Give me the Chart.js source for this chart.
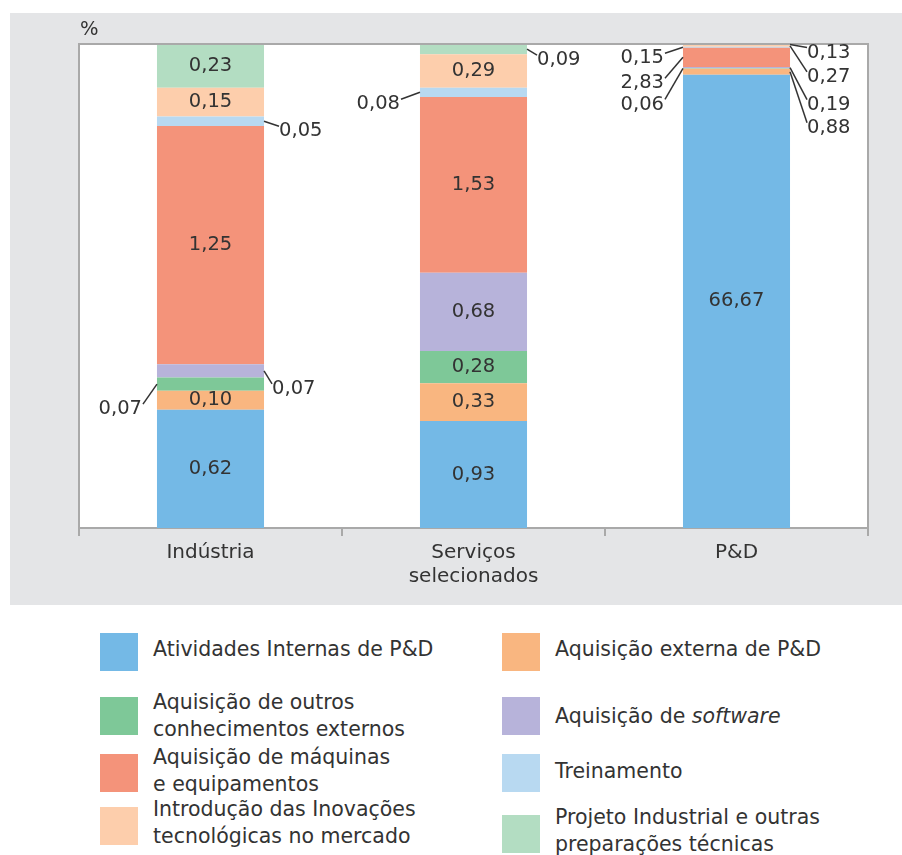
<!DOCTYPE html>
<html>
<head>
<meta charset="utf-8">
<script src="https://cdn.jsdelivr.net/npm/chart.js@4/dist/chart.umd.min.js"></script>
<style>
  html, body { margin: 0; padding: 0; background: #ffffff; }
  body { width: 902px; height: 855px; position: relative; overflow: hidden; font-family: "DejaVu Sans", Verdana, sans-serif; color: #333333; }
  #panel { position: absolute; left: 10px; top: 13px; width: 892px; height: 592px; background: #e4e5e7; }
  #wrap { position: absolute; left: 0; top: 0; width: 902px; height: 605px; }
  .sw { position: absolute; width: 38px; height: 38px; }
  .lt { position: absolute; font-size: 20.5px; line-height: 27px; white-space: nowrap; }
</style>
</head>
<body>
<div id="panel"></div>
<div id="wrap"><canvas id="c" width="902" height="605"></canvas></div>
<div id="legend"></div>
<script>
// ---- Data ----
const categories = ['Indústria', ['Serviços', 'selecionados'], 'P&D'];
const seriesNames = [
  'Atividades internas de P&D',
  'Aquisição externa de P&D',
  'Aquisição de outros conhecimentos externos',
  'Aquisição de software',
  'Aquisição de máquinas e equipamentos',
  'Treinamento',
  'Introdução das inovações tecnológicas no mercado',
  'Projeto industrial e outras preparações técnicas'
];
const internas     = [0.62, 0.93, 66.67];
const externa      = [0.10, 0.33, 0.88];
const outros       = [0.07, 0.28, 0.06];
const software     = [0.07, 0.68, 0.19];
const maquinas     = [1.25, 1.53, 2.83];
const treinamento  = [0.05, 0.08, 0.15];
const introducao   = [0.15, 0.29, 0.27];
const projeto      = [0.23, 0.09, 0.13];
const seriesValues = [internas, externa, outros, software, maquinas, treinamento, introducao, projeto];

// ---- Styles ----
const colors = ['#74b9e6', '#f9b680', '#7ec898', '#b7b3da', '#f4937a', '#b8d9f1', '#fdceac', '#b3ddc2'];
// labels placed outside the bar with a leader line: [seriesIndex, categoryIndex, side, dx, dy]
const outsideLabels = [
  [5, 0, 'R', 15, 10], [2, 0, 'L', 15, 25], [3, 0, 'R', 8, 18],
  [5, 1, 'L', 20, 12], [7, 1, 'R', 10, 11],
  [5, 2, 'L', 19, 11], [4, 2, 'L', 19, 26], [2, 2, 'L', 19, 36],
  [7, 2, 'R', 17, 8], [6, 2, 'R', 17, 31], [3, 2, 'R', 17, 37], [1, 2, 'R', 17, 56]
];

const totals = categories.map((_, j) => seriesValues.reduce((s, arr) => s + arr[j], 0));
const fmt = v => v.toFixed(2).replace('.', ',');

const datasets = seriesValues.map((arr, i) => ({
  label: seriesNames[i],
  data: arr.map((v, j) => v / totals[j] * 100),
  raw: arr,
  backgroundColor: colors[i],
  borderWidth: 0,
  categoryPercentage: 1,
  barPercentage: 0.407
}));

const TEXT = '#333333';
const FAMILY = '"DejaVu Sans", Verdana, sans-serif';
const FONT = '19.5px ' + FAMILY;

const decorPlugin = {
  id: 'decor',
  beforeDraw(chart) {
    const { ctx, chartArea: a } = chart;
    ctx.save();
    ctx.fillStyle = '#ffffff';
    ctx.fillRect(a.left, a.top, a.right - a.left, a.bottom - a.top);
    ctx.restore();
  },
  afterDatasetsDraw(chart) {
    const { ctx, chartArea: a } = chart;
    ctx.save();
    // frame
    ctx.strokeStyle = '#a9a9a9';
    ctx.lineWidth = 2;
    ctx.beginPath();
    ctx.moveTo(a.left, a.bottom);
    ctx.lineTo(a.left, a.top);
    ctx.lineTo(a.right, a.top);
    ctx.lineTo(a.right, a.bottom);
    ctx.stroke();
    // % label
    ctx.fillStyle = TEXT;
    ctx.font = FONT;
    ctx.textAlign = 'left';
    ctx.textBaseline = 'middle';
    ctx.fillText('%', a.left + 1, 30);

    const outMap = {};
    outsideLabels.forEach(o => { outMap[o[0] + '-' + o[1]] = o; });
    chart.data.datasets.forEach((ds, i) => {
      const meta = chart.getDatasetMeta(i);
      meta.data.forEach((el, j) => {
        const cy = (el.y + el.base) / 2;
        const txt = fmt(ds.raw[j]);
        const o = outMap[i + '-' + j];
        ctx.fillStyle = TEXT;
        ctx.font = FONT;
        ctx.textBaseline = 'middle';
        if (!o) {
          ctx.textAlign = 'center';
          ctx.fillText(txt, el.x, cy);
        } else {
          const side = o[2], dx = o[3], dy = o[4];
          const ly = cy + dy;
          const edge = side === 'R' ? el.x + el.width / 2 : el.x - el.width / 2;
          const tx = side === 'R' ? edge + dx : edge - dx;
          ctx.strokeStyle = '#333333';
          ctx.lineWidth = 1.5;
          ctx.beginPath();
          ctx.moveTo(edge, cy);
          ctx.lineTo(side === 'R' ? tx : tx + 1, ly - 5);
          ctx.stroke();
          ctx.textAlign = side === 'R' ? 'left' : 'right';
          ctx.fillText(txt, tx, ly);
        }
      });
    });
    ctx.restore();
  }
};

new Chart(document.getElementById('c'), {
  type: 'bar',
  data: { labels: categories, datasets },
  options: {
    responsive: false,
    animation: false,
    layout: { padding: { left: 79, right: 34, top: 44, bottom: 0 } },
    plugins: { legend: { display: false }, tooltip: { enabled: false } },
    scales: {
      x: {
        stacked: true,
        afterFit: s => { s.height = 77; },
        grid: { display: true, drawOnChartArea: false, drawTicks: true, tickLength: 8, offset: true, color: '#a9a9a9', lineWidth: 2 },
        border: { display: true, color: '#a9a9a9', width: 2 },
        ticks: { color: TEXT, font: { family: FAMILY, size: 20 }, padding: 5, maxRotation: 0 }
      },
      y: { stacked: true, display: false, min: 0, max: 100 }
    }
  },
  plugins: [decorPlugin]
});

// ---- HTML legend ----
const legendItems = [
  { s: 0, x: 100, y: 633, tx: 153, ty: 636, html: 'Atividades Internas de P&amp;D' },
  { s: 2, x: 100, y: 697, tx: 153, ty: 689, html: 'Aquisição de outros<br>conhecimentos externos' },
  { s: 4, x: 100, y: 754, tx: 153, ty: 744, html: 'Aquisição de máquinas<br>e equipamentos' },
  { s: 6, x: 100, y: 807, tx: 153, ty: 796, html: 'Introdução das Inovações<br>tecnológicas no mercado' },
  { s: 1, x: 502, y: 633, tx: 555, ty: 636, html: 'Aquisição externa de P&amp;D' },
  { s: 3, x: 502, y: 697, tx: 555, ty: 703, html: 'Aquisição de <i>software</i>' },
  { s: 5, x: 502, y: 754, tx: 555, ty: 758, html: 'Treinamento' },
  { s: 7, x: 502, y: 815, tx: 555, ty: 804, html: 'Projeto Industrial e outras<br>preparações técnicas' }
];
const leg = document.getElementById('legend');
legendItems.forEach(it => {
  const sw = document.createElement('div');
  sw.className = 'sw';
  sw.style.left = it.x + 'px'; sw.style.top = it.y + 'px';
  sw.style.background = colors[it.s];
  leg.appendChild(sw);
  const t = document.createElement('div');
  t.className = 'lt';
  t.style.left = it.tx + 'px'; t.style.top = it.ty + 'px';
  t.innerHTML = it.html;
  leg.appendChild(t);
});
</script>
</body>
</html>
